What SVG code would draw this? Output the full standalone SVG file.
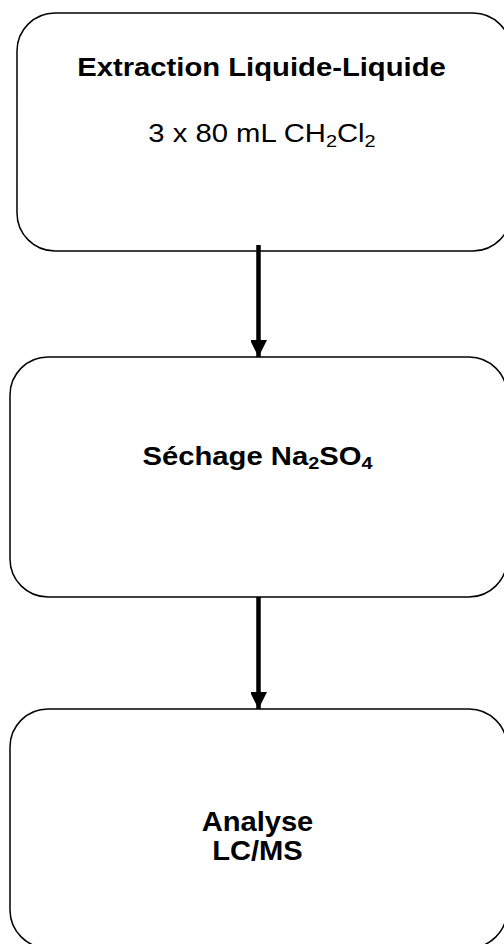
<svg xmlns="http://www.w3.org/2000/svg" width="504" height="944" viewBox="0 0 504 944">
<style>
.box{fill:#fff;stroke:#000;stroke-width:1.5}
.t{font-family:"Liberation Sans",Arial,sans-serif;font-size:25px;fill:#000;text-anchor:middle}
.b{font-weight:bold}
.big{font-size:28px}
.conn{stroke:#000;stroke-width:4.5;fill:none}
</style>
<defs>
<marker id="ah" markerUnits="userSpaceOnUse" markerWidth="18" markerHeight="16" refX="17" refY="8.5" orient="auto">
<path d="M0,0 L17,8.5 L0,17 Z" fill="#000"/>
</marker>
</defs>
<rect width="504" height="944" fill="#fff"/>
<g id="node-extraction">
<rect class="box" x="17" y="13" width="494" height="238" rx="38" ry="38"/>
<text class="t b" transform="translate(261.5,75.5) scale(1.17,1)">Extraction Liquide-Liquide</text>
<text class="t" transform="translate(262,142) scale(1.17,1)">3 x 80 mL CH<tspan font-size="17" dy="5">2</tspan><tspan dy="-5">Cl</tspan><tspan font-size="17" dy="5">2</tspan></text>
</g>
<g id="node-sechage">
<rect class="box" x="10" y="357" width="497" height="240" rx="38" ry="38"/>
<text class="t b" transform="translate(257.5,465) scale(1.17,1)">Séchage Na<tspan font-size="17" dy="4">2</tspan><tspan dy="-4">SO</tspan><tspan font-size="17" dy="4">4</tspan></text>
</g>
<g id="node-analyse">
<rect class="box" x="10" y="709" width="497" height="239" rx="38" ry="38"/>
<text class="t b big" transform="translate(257.5,830.5) scale(1.04,1)">Analyse</text>
<text class="t b big" transform="translate(257.5,860) scale(1.04,1)">LC/MS</text>
</g>
<g id="connectors">
<line class="conn" x1="258.5" y1="245" x2="258.5" y2="357" marker-end="url(#ah)"/>
<line class="conn" x1="258.5" y1="597" x2="258.5" y2="709" marker-end="url(#ah)"/>
</g>
</svg>
